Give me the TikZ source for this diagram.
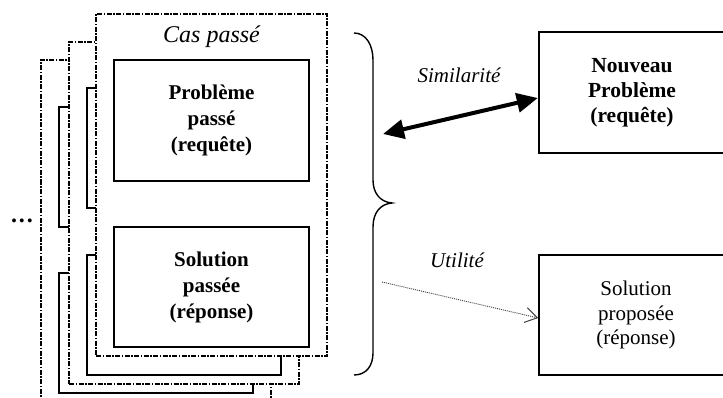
\documentclass[tikz,border=0pt]{standalone}
\usepackage{fontspec}
\setmainfont{Liberation Serif}
\usetikzlibrary{arrows.meta}
\begin{document}
\begin{tikzpicture}[x=1pt,y=-1pt,
  casebox/.style={draw, fill=white, line width=1.8pt, inner sep=0pt,
    dash pattern=on 5pt off 1.5pt on 1.5pt off 1.5pt},
  partbox/.style={draw, fill=white, line width=1.5pt, inner sep=0pt,
    minimum width=195pt, minimum height=120pt, align=center,
    font=\bfseries\fontsize{21}{26}\selectfont},
  querybox/.style={draw, line width=2.4pt, inner sep=0pt, align=center,
    minimum width=186pt, minimum height=121pt,
    font=\bfseries\fontsize{21.5}{25}\selectfont},
  answerbox/.style={draw, line width=1.4pt, inner sep=0pt, align=center,
    minimum width=194pt, minimum height=120pt,
    font=\fontsize{21}{24.5}\selectfont},
  linklabel/.style={font=\itshape\fontsize{21}{24}\selectfont, inner sep=0pt},
  simlink/.style={line width=4pt, {Triangle[length=21pt,width=19pt]}-{Triangle[length=21pt,width=19pt]}},
  uselink/.style={line width=0.9pt, black!75, dash pattern=on 1pt off 1pt,
    -{Straight Barb[length=12pt,width=15pt,line width=1pt]}},
]
\useasboundingbox (0,0) rectangle (723,398);

% third (rearmost) stored case
\node[casebox, minimum width=230pt, minimum height=342pt] (case3) at (156,231) {};
\node[partbox, minimum width=194pt] (prob3) at (156,167) {};
\node[partbox, minimum width=194pt] (sol3) at (156,333) {};

% second stored case
\node[casebox, minimum width=230pt, minimum height=342pt] (case2) at (184,213) {};
\node[partbox, minimum width=194pt] (prob2) at (184,148) {};
\node[partbox, minimum width=194pt] (sol2) at (184,315) {};

% front stored case
\node[casebox, minimum width=231pt, minimum height=342pt] (case1) at (211.5,185) {};
\node[linklabel, font=\itshape\fontsize{24}{28}\selectfont, anchor=base] (castitle) at (211.5,43) {Cas passé};
\node[partbox, minimum height=121pt] (prob1) at (211.5,120.5) {Problème\\passé\\(requête)};
\node[partbox] (sol1) at (211.5,287) {Solution\\passée\\(réponse)};

% more cases
\node[font=\bfseries\fontsize{24}{28}\selectfont, inner sep=0pt, anchor=base] (more) at (22,223) {.\kern2pt.\kern2pt.};

% brace grouping the case
\draw[line width=1.4pt] (354,33) .. controls (366,33) and (373,45) .. (373,60)
  -- (373,180) .. controls (373,193) and (380,202) .. (392,203)
  .. controls (380,204) and (373,213) .. (373,227)
  -- (373,353) .. controls (373,366) and (366,375) .. (354,375);

% new query and proposed answer
\node[querybox] (query) at (632,92.5) {Nouveau\\Problème\\(requête)};
\node[answerbox] (answer) at (636,315) {Solution\\proposée\\(réponse)};

% links
\coordinate (simstart) at (383,134);
\coordinate (usestart) at (382,282);
\draw[simlink] (simstart) -- ([yshift=-5.5pt]query.west);
\draw[uselink] (usestart) -- ([yshift=-3pt]answer.west);
\node[linklabel] (simlabel) at (459,75) {Similarité};
\node[linklabel] (uselabel) at (457,260) {Utilité};
\end{tikzpicture}
\end{document}
